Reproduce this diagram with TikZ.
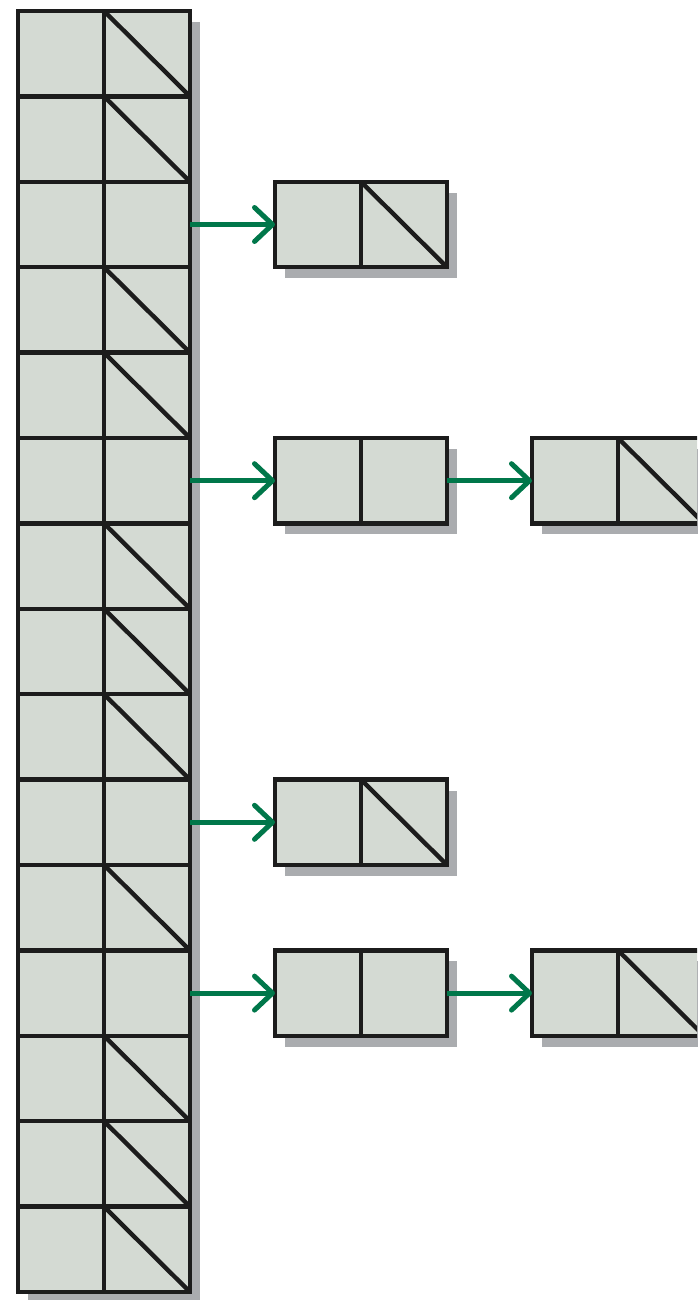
\documentclass[tikz,border=0pt]{standalone}
\usetikzlibrary{arrows.meta,positioning,backgrounds}
\definecolor{cellfill}{HTML}{D4DAD3}
\definecolor{shadowgray}{HTML}{AAACAF}
\definecolor{linkgreen}{HTML}{00774A}
\definecolor{ink}{HTML}{1C1C1C}

\begin{document}
\begin{tikzpicture}[x=1pt,y=-1pt,
  cell/.style={draw=ink,fill=cellfill,line width=4.4pt,minimum width=86pt,
    minimum height=85.4pt,inner sep=0pt,outer sep=0pt},
  nil/.style={draw=ink,line width=4.4pt},
  link/.style={draw=linkgreen,line width=5pt,
    -{Straight Barb[length=18pt,width=34pt,round]}}]
  \clip (0,0) rectangle (697,1300);
  % hash table
  \foreach \i in {1,...,15}{
    \node[cell] (k\i) at (61,{11+85.4*(\i-0.5)}) {};
    \node[cell,right=0pt of k\i] (p\i) {};
  }
  \foreach \i in {1,2,4,5,7,8,9,11,13,14,15}
    \draw[nil] (p\i.north west) -- (p\i.south east);
  % chains
  \node[cell,right=85pt of p3] (a1) {};
  \node[cell,right=0pt of a1] (a2) {};
  \node[cell,right=85pt of p6] (b1) {};
  \node[cell,right=0pt of b1] (b2) {};
  \node[cell,right=85pt of b2] (c1) {};
  \node[cell,right=0pt of c1] (c2) {};
  \node[cell,right=85pt of p10] (d1) {};
  \node[cell,right=0pt of d1] (d2) {};
  \node[cell,right=85pt of p12] (e1) {};
  \node[cell,right=0pt of e1] (e2) {};
  \node[cell,right=85pt of e2] (f1) {};
  \node[cell,right=0pt of f1] (f2) {};
  \foreach \n in {a2,c2,d2,f2}
    \draw[nil] (\n.north west) -- (\n.south east);
  % links
  \draw[link] (p3.east) -- (a1.west);
  \draw[link] (p6.east) -- (b1.west);
  \draw[link] (b2.east) -- (c1.west);
  \draw[link] (p10.east) -- (d1.west);
  \draw[link] (p12.east) -- (e1.west);
  \draw[link] (e2.east) -- (f1.west);
  % shadows
  \begin{scope}[on background layer]
    \fill[shadowgray] ([shift={(10,11)}]k1.north west) rectangle ([shift={(10,11)}]p15.south east);
    \foreach \s/\t in {a1/a2,b1/b2,c1/c2,d1/d2,e1/e2,f1/f2}
      \fill[shadowgray] ([shift={(10,11)}]\s.north west) rectangle ([shift={(10,11)}]\t.south east);
  \end{scope}
\end{tikzpicture}
\end{document}
